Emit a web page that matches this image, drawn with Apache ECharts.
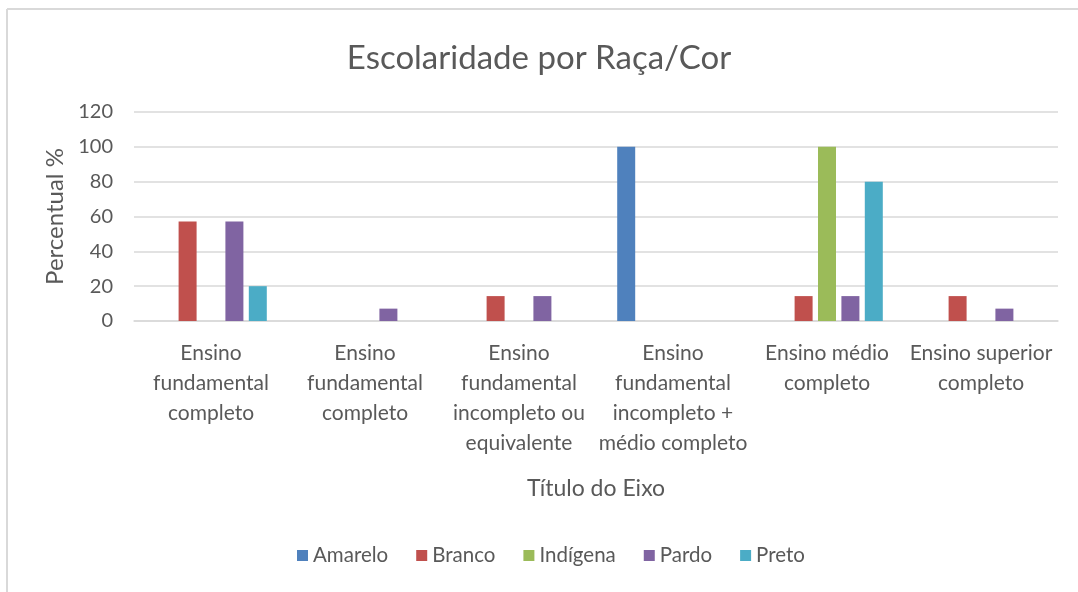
<!DOCTYPE html>
<html lang="pt">
<head>
    <meta charset="UTF-8"/>
    <script type="text/javascript" src="https://cdn.jsdelivr.net/npm/echarts@6/dist/echarts.min.js"></script>
    <title>Escolaridade por Raça/Cor</title>
    <style>
        html, body { margin: 0; padding: 0; background: #fff; }
        #main { width: 1078px; height: 592px; }
    </style>
</head>
<body>
<div id="main"></div>
<script type="text/javascript">
    // categorias (quebras de linha como no gráfico original)
    var categorias = [
        'Ensino\nfundamental\ncompleto',
        'Ensino\nfundamental\ncompleto',
        'Ensino\nfundamental\nincompleto ou\nequivalente',
        'Ensino\nfundamental\nincompleto +\nmédio completo',
        'Ensino médio\ncompleto',
        'Ensino superior\ncompleto'
    ]
    var yTicks = [0, 20, 40, 60, 80, 100, 120]

    var amarelo  = [0, 0, 0, 100, 0, 0]
    var branco   = [57.1, 0, 14.3, 0, 14.3, 14.3]
    var indigena = [0, 0, 0, 0, 100, 0]
    var pardo    = [57.1, 7.1, 14.3, 0, 14.3, 7.1]
    var preto    = [20, 0, 0, 0, 80, 0]

    var nomes = ['Amarelo', 'Branco', 'Indígena', 'Pardo', 'Preto']
    var cores = ['#4F81BD', '#C0504D', '#9BBB59', '#8064A2', '#4BACC6']
    var valores = [amarelo, branco, indigena, pardo, preto]

    var fonte = 'Lato, "Open Sans", sans-serif'
    var cinza = '#595959'

    var series = []
    for (var i = 0; i < nomes.length; i++) {
        series.push({
            name: nomes[i],
            type: 'bar',
            barWidth: 18,
            barGap: '30%',
            itemStyle: { color: cores[i] },
            data: valores[i]
        })
    }

    var myChart = echarts.init(document.getElementById('main'))
    var option = {
        backgroundColor: '#fff',
        textStyle: { fontFamily: fonte, color: cinza },
        title: {
            text: 'Escolaridade por Raça/Cor',
            left: 'center',
            top: 37,
            textStyle: { fontFamily: fonte, fontSize: 33, fontWeight: 'normal', color: cinza }
        },
        legend: {
            data: nomes,
            bottom: 21,
            left: 292,
            icon: 'rect',
            itemWidth: 11,
            itemHeight: 11,
            itemGap: 28,
            textStyle: { fontFamily: fonte, fontSize: 20.5, color: cinza }
        },
        grid: { left: 134, right: 20, top: 112, bottom: 271 },
        xAxis: {
            type: 'category',
            data: categorias,
            name: 'Título do Eixo',
            nameLocation: 'middle',
            nameGap: 156,
            nameTextStyle: { fontFamily: fonte, fontSize: 23, color: cinza },
            axisLine: { lineStyle: { color: '#d9d9d9', width: 1.5 } },
            axisTick: { show: false },
            axisLabel: {
                interval: 0,
                margin: 17,
                fontFamily: fonte,
                fontSize: 21,
                lineHeight: 30,
                color: cinza
            }
        },
        yAxis: {
            type: 'value',
            min: yTicks[0],
            max: yTicks[yTicks.length - 1],
            interval: 20,
            name: 'Percentual %',
            nameLocation: 'middle',
            nameGap: 61,
            nameRotate: 90,
            nameTextStyle: { fontFamily: fonte, fontSize: 24, color: cinza },
            axisLine: { show: false },
            axisTick: { show: false },
            axisLabel: { margin: 21, fontFamily: fonte, fontSize: 20, color: cinza },
            splitLine: { lineStyle: { color: '#d9d9d9', width: 1.5 } }
        },
        graphic: [
            { type: 'line', shape: { x1: 7, y1: 9, x2: 7, y2: 592 }, style: { stroke: '#d9d9d9', lineWidth: 2 } },
            { type: 'line', shape: { x1: 7, y1: 9, x2: 1078, y2: 9 }, style: { stroke: '#d9d9d9', lineWidth: 2 } }
        ],
        series: series
    }
    myChart.setOption(option)
</script>
</body>
</html>
